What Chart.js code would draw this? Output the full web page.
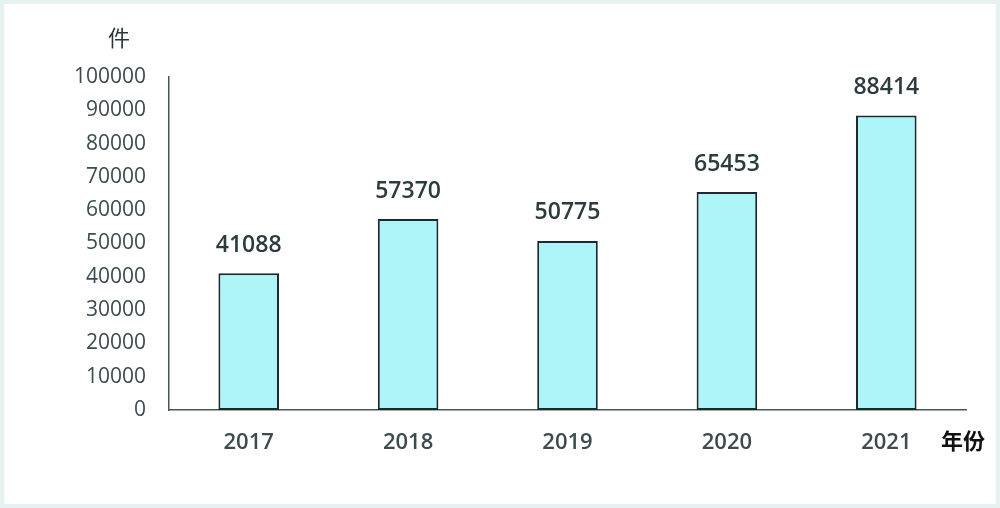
<!DOCTYPE html>
<html>
<head>
<meta charset="utf-8">
<script src="https://cdn.jsdelivr.net/npm/chart.js@4/dist/chart.umd.min.js"></script>
<style>
  html, body { margin: 0; padding: 0; background: #ffffff; }
  #wrap { width: 1000px; height: 508px; position: relative; }
</style>
</head>
<body>
<div id="wrap"><canvas id="chart_patents"></canvas></div>
<script>
const years = ["2017", "2018", "2019", "2020", "2021"];
const counts = [41088, 57370, 50775, 65453, 88414];
const yMax = 100000;
const yStep = 10000;

const textColor = "#3b4b50";
const fontFamily = "'Open Sans', 'Noto Sans CJK SC', sans-serif";

// background + pale frame
const framePlugin = {
  id: "frame",
  beforeDraw(chart) {
    const ctx = chart.ctx;
    ctx.save();
    ctx.fillStyle = "#ffffff";
    ctx.fillRect(0, 0, chart.width, chart.height);
    ctx.strokeStyle = "#e6f1f1";
    ctx.lineWidth = 4;
    ctx.strokeRect(2, 2, chart.width - 4, chart.height - 4);
    ctx.restore();
  },
};

// values over the bars and the two axis titles
const labelPlugin = {
  id: "valueLabels",
  afterDatasetsDraw(chart) {
    const ctx = chart.ctx;
    const meta = chart.getDatasetMeta(0);
    ctx.save();
    ctx.fillStyle = "#2c3b3e";
    ctx.font = "600 23px " + fontFamily;
    ctx.textAlign = "center";
    ctx.textBaseline = "middle";
    meta.data.forEach((bar, i) => {
      ctx.fillText(String(counts[i]), bar.x, bar.y - 28);
    });

    ctx.fillStyle = "#2a3538";
    ctx.font = "22px 'Noto Sans CJK SC', sans-serif";
    ctx.fillText("件", 119, 38);
    ctx.fillStyle = "#111111";
    ctx.font = "bold 22px 'Noto Sans CJK SC', sans-serif";
    ctx.fillText("年份", 963, 441);
    ctx.restore();
  },
};

const chart = new Chart(document.getElementById("chart_patents"), {
  type: "bar",
  data: {
    labels: years,
    datasets: [
      {
        data: counts,
        backgroundColor: "#aef5fa",
        borderColor: "#1c2a2c",
        borderWidth: 2,
        borderSkipped: false,
        barPercentage: 0.38,
        categoryPercentage: 1,
      },
    ],
  },
  options: {
    responsive: true,
    maintainAspectRatio: false,
    animation: false,
    layout: {
      padding: { top: 77, right: 34, left: 0, bottom: 0 },
    },
    scales: {
      y: {
        min: 0,
        max: yMax,
        ticks: {
          stepSize: yStep,
          padding: 23,
          color: textColor,
          font: { family: fontFamily, size: 21 },
          callback: (value) => String(value),
        },
        grid: { display: false, drawTicks: false },
        border: { display: true, color: "#46575a", width: 1.5 },
        afterFit(scale) {
          scale.width = 169;
        },
      },
      x: {
        ticks: {
          padding: 20,
          color: textColor,
          font: { family: fontFamily, size: 22, weight: "600" },
        },
        grid: { display: false, drawTicks: false },
        border: { display: true, color: "#46575a", width: 1.5 },
        afterFit(scale) {
          scale.height = 98;
        },
      },
    },
    plugins: {
      legend: { display: false },
      title: { display: false },
      tooltip: { enabled: false },
    },
  },
  plugins: [framePlugin, labelPlugin],
});
</script>
</body>
</html>
